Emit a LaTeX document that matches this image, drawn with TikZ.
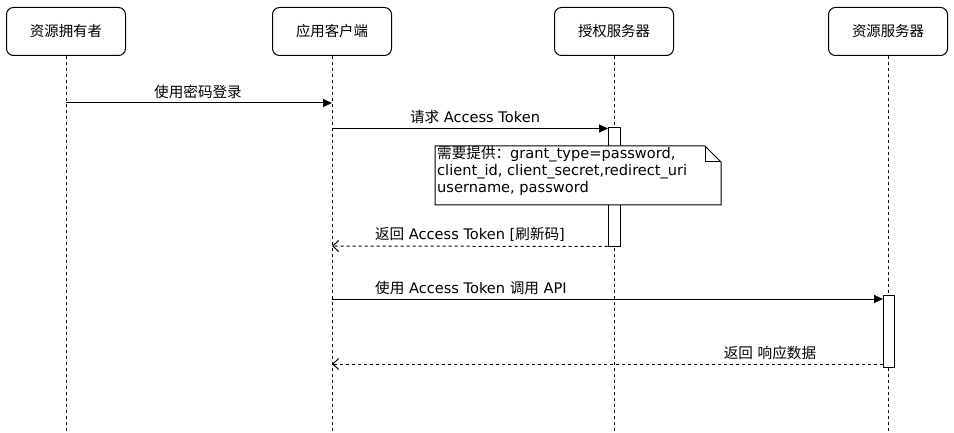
\documentclass[tikz,border=0pt]{standalone}
\usepackage{fontspec}
\setmainfont{DejaVu Sans}
\newfontfamily\cjk{Noto Sans CJK SC}
\newcommand\zh[1]{{\cjk #1}}
\usetikzlibrary{arrows.meta}
\begin{document}
\begin{tikzpicture}[x=1pt,y=-1pt,
  actor/.style={draw, rounded corners=7pt, minimum width=119pt, minimum height=48pt,
    line width=1pt, font=\cjk\fontsize{14.4}{17}\selectfont, inner sep=0pt},
  life/.style={dash pattern=on 3pt off 3pt, line width=0.8pt},
  msg/.style={line width=1pt, -{Triangle[length=9pt,width=8pt]}},
  ret/.style={line width=1pt, dash pattern=on 3pt off 3pt, -{Straight Barb[length=6pt,width=11pt]}},
  lbl/.style={font=\fontsize{14.6}{17}\selectfont, inner sep=0pt, anchor=base},
  notetext/.style={font=\fontsize{14.6}{17}\selectfont, inner sep=0pt, anchor=base west},
  actbar/.style={draw, fill=white, line width=1pt, inner sep=0pt},
  notebox/.style={draw, fill=white, line width=1pt, line join=miter}
]
\useasboundingbox (0,0) rectangle (954,433);

% participants
\node[actor] (a) at (66,31.5) {资源拥有者};
\node[actor] (b) at (332,31.5) {应用客户端};
\node[actor] (c) at (614,31.5) {授权服务器};
\node[actor] (d) at (888,31.5) {资源服务器};

% lifeline ends
\coordinate (aend) at (66,433);
\coordinate (bend) at (332,433);
\coordinate (cend) at (614,433);
\coordinate (dend) at (888,433);
\draw[life] (a.south) -- (aend);
\draw[life] (b.south) -- (bend);
\draw[life] (c.south) -- (cend);
\draw[life] (d.south) -- (dend);

% activation bars
\node[actbar, minimum width=12pt, minimum height=118pt] (cact) at (614,187) {};
\node[actbar, minimum width=11pt, minimum height=72pt] (dact) at (888.5,331) {};

% message points
\coordinate (m1s) at (66,103);
\coordinate (m1e) at (332,103);
\coordinate (m2s) at (332,128.5);
\coordinate (m2e) at (608,128.5);
\coordinate (r1e) at (332,246);
\coordinate (m4s) at (332,299);
\coordinate (m4e) at (883,299);
\coordinate (r2s) at (883,364);
\coordinate (r2e) at (332,364);

\draw[msg] (m1s) -- (m1e);
\draw[msg] (m2s) -- (m2e);
\draw[ret] (cact.south west) -- (r1e);
\draw[msg] (m4s) -- (m4e);
\draw[ret] (r2s) -- (r2e);

% labels
\node[lbl] (l1) at (198,98) {\zh{使用密码登录}};
\node[lbl] (l2) at (475,123) {\zh{请求} Access Token};
\node[lbl] (l3) at (470,240) {\zh{返回} Access Token [\zh{刷新码}]};
\node[lbl] (l4) at (471,293) {\zh{使用} Access Token \zh{调用} API};
\node[lbl] (l5) at (770,358) {\zh{返回} \zh{响应数据}};

% note
\coordinate (n1) at (435,146);
\coordinate (n2) at (705,146);
\coordinate (n3) at (721,162);
\coordinate (n4) at (721,205);
\coordinate (n5) at (435,205);
\coordinate (nf) at (705,162);
\draw[notebox] (n1) -- (n2) -- (n3) -- (n4) -- (n5) -- cycle;
\draw[line width=1pt] (n2) -- (nf) -- (n3);
\node[notetext] (nt1) at (437,159) {\zh{需要提供：}grant\_type=password,};
\node[notetext] (nt2) at (437,176) {client\_id, client\_secret,redirect\_uri};
\node[notetext] (nt3) at (437,193) {username, password};
\end{tikzpicture}
\end{document}
